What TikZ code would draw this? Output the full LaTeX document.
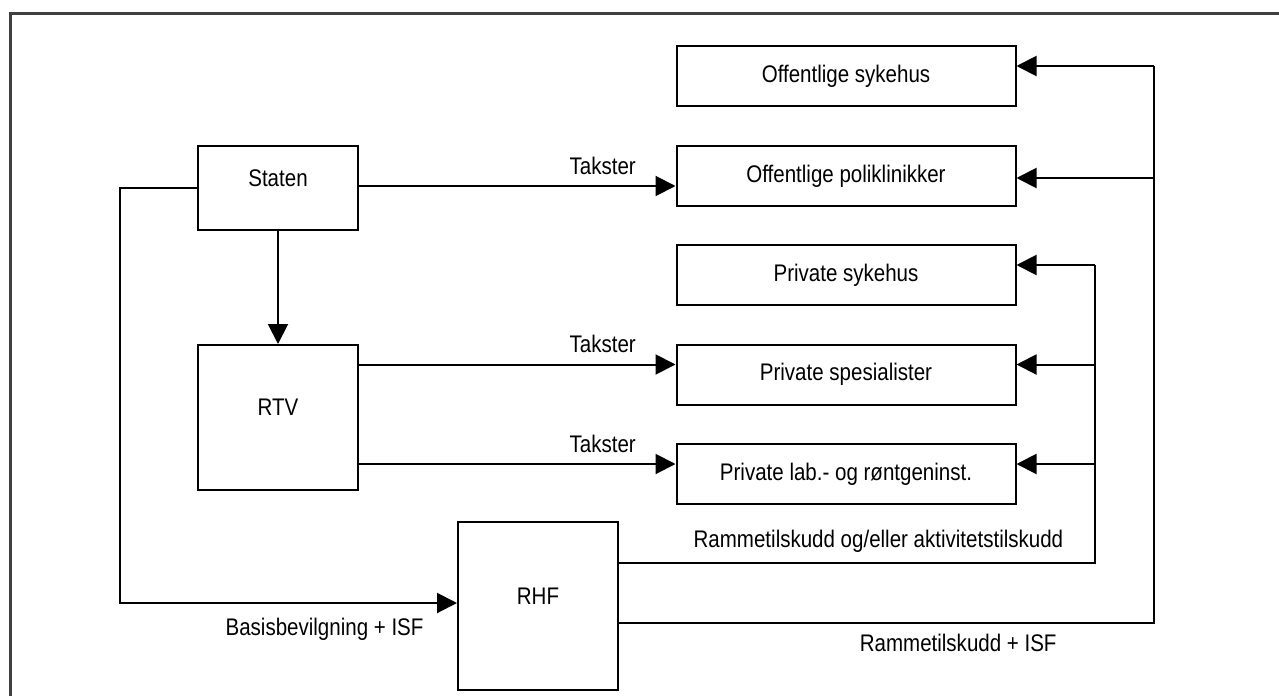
\documentclass[tikz,border=0pt]{standalone}
\usepackage{fontspec}
\setmainfont{Liberation Sans}[FakeStretch=0.855]
\usetikzlibrary{arrows.meta}
\tikzset{
  box/.style={draw, line width=1pt, inner sep=0pt, minimum width=169.5pt,
    minimum height=30pt, font=\fontsize{12}{14}\selectfont},
  actor/.style={box, minimum width=80pt, text depth=10pt},
  arr/.style={-{Triangle[length=10pt,width=10pt]}},
  lbl/.style={font=\fontsize{12}{14}\selectfont},
}
\begin{document}
\begin{tikzpicture}[x=0.5pt,y=-0.5pt,line width=1pt,line join=miter]
	\useasboundingbox (0,0) rectangle (1279,696);
	% ramme
	\draw[line width=1.5pt, black!75] (1279,13) -- (10,13) -- (10,696);

	% mottakere
	\node[box] (offsyk) at (846,76) {Offentlige sykehus};
	\node[box] (offpol) at (846,176) {Offentlige poliklinikker};
	\node[box] (privsyk) at (846,275) {Private sykehus};
	\node[box] (privspes) at (846,374.5) {Private spesialister};
	\node[box] (privlab) at (846,474) {Private lab.- og røntgeninst.};

	% betalere
	\node[actor, minimum height=42pt] (staten) at (278,188) {Staten};
	\node[actor, minimum height=72.5pt] (rtv) at (278,417.5) {RTV};
	\node[actor, minimum height=84pt] (rhf) at (538,606) {RHF};

	\coordinate (inpol) at ([yshift=-5pt]offpol.west);
	\coordinate (inspes) at ([yshift=5pt]privspes.west);
	\coordinate (inlab) at ([yshift=5pt]privlab.west);
	\coordinate (inrhf) at ([yshift=1.5pt]rhf.west);
	\coordinate (utA) at ([yshift=21.5pt]rhf.east);
	\coordinate (utB) at ([yshift=-8.5pt]rhf.east);
	\coordinate (venstre) at (120,0);
	\coordinate (busA) at (1095,0);
	\coordinate (busB) at (1154,0);

	% takster
	\draw[arr] (staten.east |- inpol) -- node[lbl, pos=.77, above, yshift=2pt] {Takster} (inpol);
	\draw[arr] (staten) -- (rtv);
	\draw[arr] (rtv.east |- inspes) -- node[lbl, pos=.77, above, yshift=2pt] {Takster} (inspes);
	\draw[arr] (rtv.east |- inlab) -- node[lbl, pos=.77, above, yshift=2pt] {Takster} (inlab);

	% basisbevilgning
	\draw[arr] (staten.west) -- (staten.west -| venstre) -- (venstre |- inrhf)
		-- node[lbl, pos=.607, below, yshift=-3.5pt] {Basisbevilgning + ISF} (inrhf);

	% private
	\foreach \n in {privsyk,privspes,privlab}{
		\coordinate (in\n) at ([yshift=5pt]\n.east);
		\draw[arr] (in\n -| busA) -- (in\n);
	}
	\draw (utA) -- node[lbl, pos=.545, above, yshift=1.5pt] {Rammetilskudd og/eller aktivitetstilskudd}
		(utA -| busA) -- (inprivsyk -| busA);

	% offentlige
	\coordinate (inoffsyk) at ([yshift=5pt]offsyk.east);
	\coordinate (inoffpol) at ([yshift=-1pt]offpol.east);
	\draw[arr] (inoffsyk -| busB) -- (inoffsyk);
	\draw[arr] (inoffpol -| busB) -- (inoffpol);
	\draw (utB) -- node[lbl, pos=.634, below, yshift=-1.5pt] {Rammetilskudd + ISF}
		(utB -| busB) -- (inoffsyk -| busB);
\end{tikzpicture}
\end{document}
